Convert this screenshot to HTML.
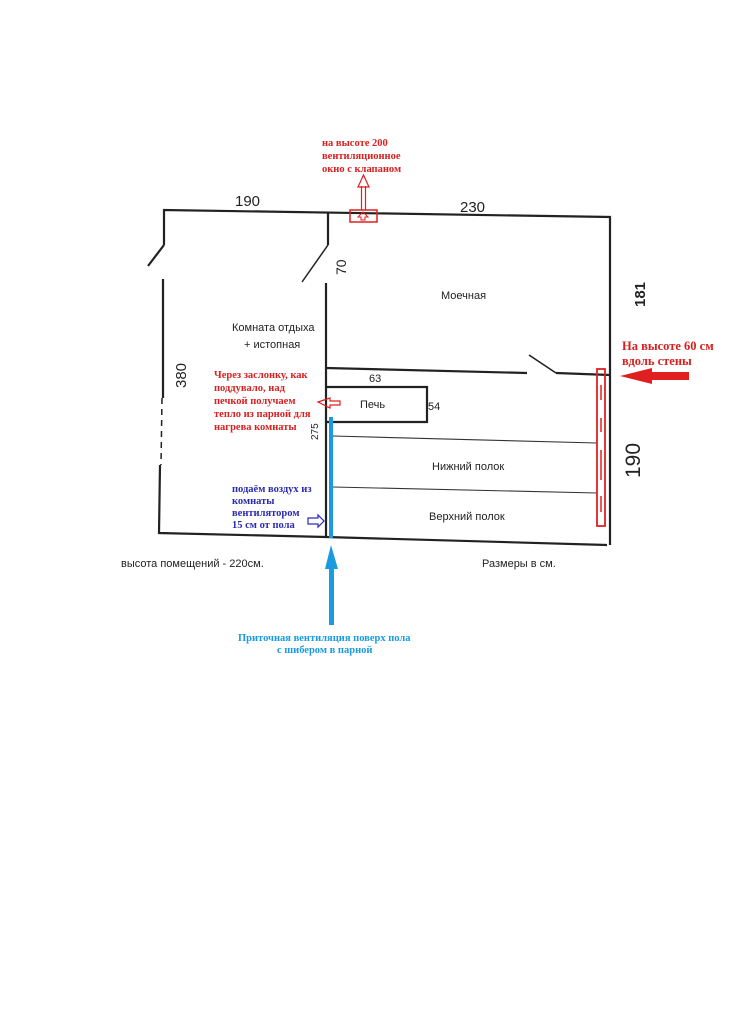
<!DOCTYPE html>
<html><head><meta charset="utf-8"><style>
html,body{margin:0;padding:0;background:#fff;}
svg{display:block;}
text{font-family:"Liberation Sans","DejaVu Sans",sans-serif;}
.s{font-family:"Liberation Serif","DejaVu Serif",serif;font-weight:bold;}
</style></head><body>
<svg width="745" height="1024" viewBox="0 0 745 1024" xmlns="http://www.w3.org/2000/svg">
<rect width="745" height="1024" fill="#fff"/>
<g stroke="#222" stroke-width="2.2" fill="none">
<polyline points="164,245 164,210 610,217 610,545"/>
<line x1="164" y1="245" x2="148" y2="266"/>
<polyline points="163,279 163,398"/>
<line x1="162" y1="398" x2="161" y2="465" stroke-dasharray="6,5" stroke-width="1.5"/>
<polyline points="160,465 159,533 326,537 607,545"/>
<polyline points="328,212 328,245"/>
<line x1="328" y1="245" x2="302" y2="282" stroke-width="1.5"/>
<line x1="326" y1="283" x2="326" y2="537"/>
<polyline points="326,368 527,373"/>
<line x1="529" y1="355" x2="556" y2="373" stroke-width="1.6"/>
<polyline points="556,373 610,375"/>
<polyline points="326,387 427,387 427,422 326,422"/>
</g>
<g stroke="#333" stroke-width="1.1">
<line x1="333" y1="436" x2="597" y2="443"/>
<line x1="333" y1="487" x2="597" y2="493"/>
</g>
<rect x="329" y="417" width="4" height="121" fill="#1a9be0"/>
<rect x="329" y="568" width="5" height="57" fill="#1a9be0"/>
<polygon points="331,545 325,569 338,569" fill="#1a9be0"/>
<polygon points="308,518 318,518 318,515 324,521 318,527 318,524 308,524" fill="none" stroke="#2a2ac0" stroke-width="1.2"/>
<!-- red vent -->
<rect x="350" y="210" width="27" height="12" fill="none" stroke="#e02020" stroke-width="1.5"/>
<polygon points="363,212 368,217 365,217 365,220 361,220 361,217 358,217" fill="none" stroke="#e02020" stroke-width="1"/>
<line x1="361.5" y1="186" x2="361.5" y2="210" stroke="#e02020" stroke-width="1.2"/>
<line x1="365.5" y1="186" x2="365.5" y2="210" stroke="#e02020" stroke-width="1.2"/>
<polygon points="363.5,175 358,187 369,187" fill="none" stroke="#e02020" stroke-width="1.2"/>
<polygon points="318,402 330,398 330,401 340,401 340,405 330,405 330,408" fill="none" stroke="#e02020" stroke-width="1.2"/>
<rect x="597" y="369" width="8" height="157" fill="none" stroke="#e02020" stroke-width="1.8"/>
<g stroke="#e02020" stroke-width="1.5">
<line x1="601" y1="385" x2="601" y2="400"/><line x1="601" y1="418" x2="601" y2="432"/>
<line x1="601" y1="450" x2="601" y2="480"/><line x1="601" y1="496" x2="601" y2="512"/>
</g>
<rect x="650" y="372" width="39" height="8" fill="#e02020"/>
<polygon points="620,376 652,368 652,384" fill="#e02020"/>
<g fill="#222">
<text x="235" y="206" font-size="15">190</text>
<text x="460" y="212" font-size="15">230</text>
<text x="441" y="299" font-size="11">Моечная</text>
<text x="232" y="331" font-size="11">Комната отдыха</text>
<text x="244" y="348" font-size="11">+ истопная</text>
<text x="369" y="382" font-size="11">63</text>
<text x="360" y="408" font-size="11">Печь</text>
<text x="428" y="410" font-size="11">54</text>
<text x="432" y="470" font-size="11">Нижний полок</text>
<text x="429" y="520" font-size="11">Верхний полок</text>
<text x="121" y="567" font-size="11">высота помещений - 220см.</text>
<text x="482" y="567" font-size="11">Размеры в см.</text>
<text transform="translate(346,275) rotate(-90)" font-size="14">70</text>
<text transform="translate(186,388) rotate(-90)" font-size="15">380</text>
<text transform="translate(318,440) rotate(-90)" font-size="10">275</text>
<text transform="translate(645,307) rotate(-90)" font-size="15" font-weight="bold">181</text>
<text transform="translate(640,478) rotate(-90)" font-size="21">190</text>
</g>
<g fill="#d82020" font-size="10.5">
<text class="s" x="322" y="146">на высоте 200</text>
<text class="s" x="322" y="159">вентиляционное</text>
<text class="s" x="322" y="172">окно с клапаном</text>
<text class="s" x="214" y="378">Через заслонку, как</text>
<text class="s" x="214" y="391">поддувало, над</text>
<text class="s" x="214" y="404">печкой получаем</text>
<text class="s" x="214" y="417">тепло из парной для</text>
<text class="s" x="214" y="430">нагрева комнаты</text>
<text class="s" x="622" y="350" font-size="12.5">На высоте 60 см</text>
<text class="s" x="622" y="365" font-size="12.5">вдоль стены</text>
</g>
<g fill="#2a2ab0" font-size="10.5">
<text class="s" x="232" y="492">подаём воздух из</text>
<text class="s" x="232" y="504">комнаты</text>
<text class="s" x="232" y="516">вентилятором</text>
<text class="s" x="232" y="528">15 см от пола</text>
</g>
<g fill="#1a9be0" font-size="10.5">
<text class="s" x="238" y="641">Приточная вентиляция поверх пола</text>
<text class="s" x="277" y="653">с шибером в парной</text>
</g>
</svg>
</body></html>
